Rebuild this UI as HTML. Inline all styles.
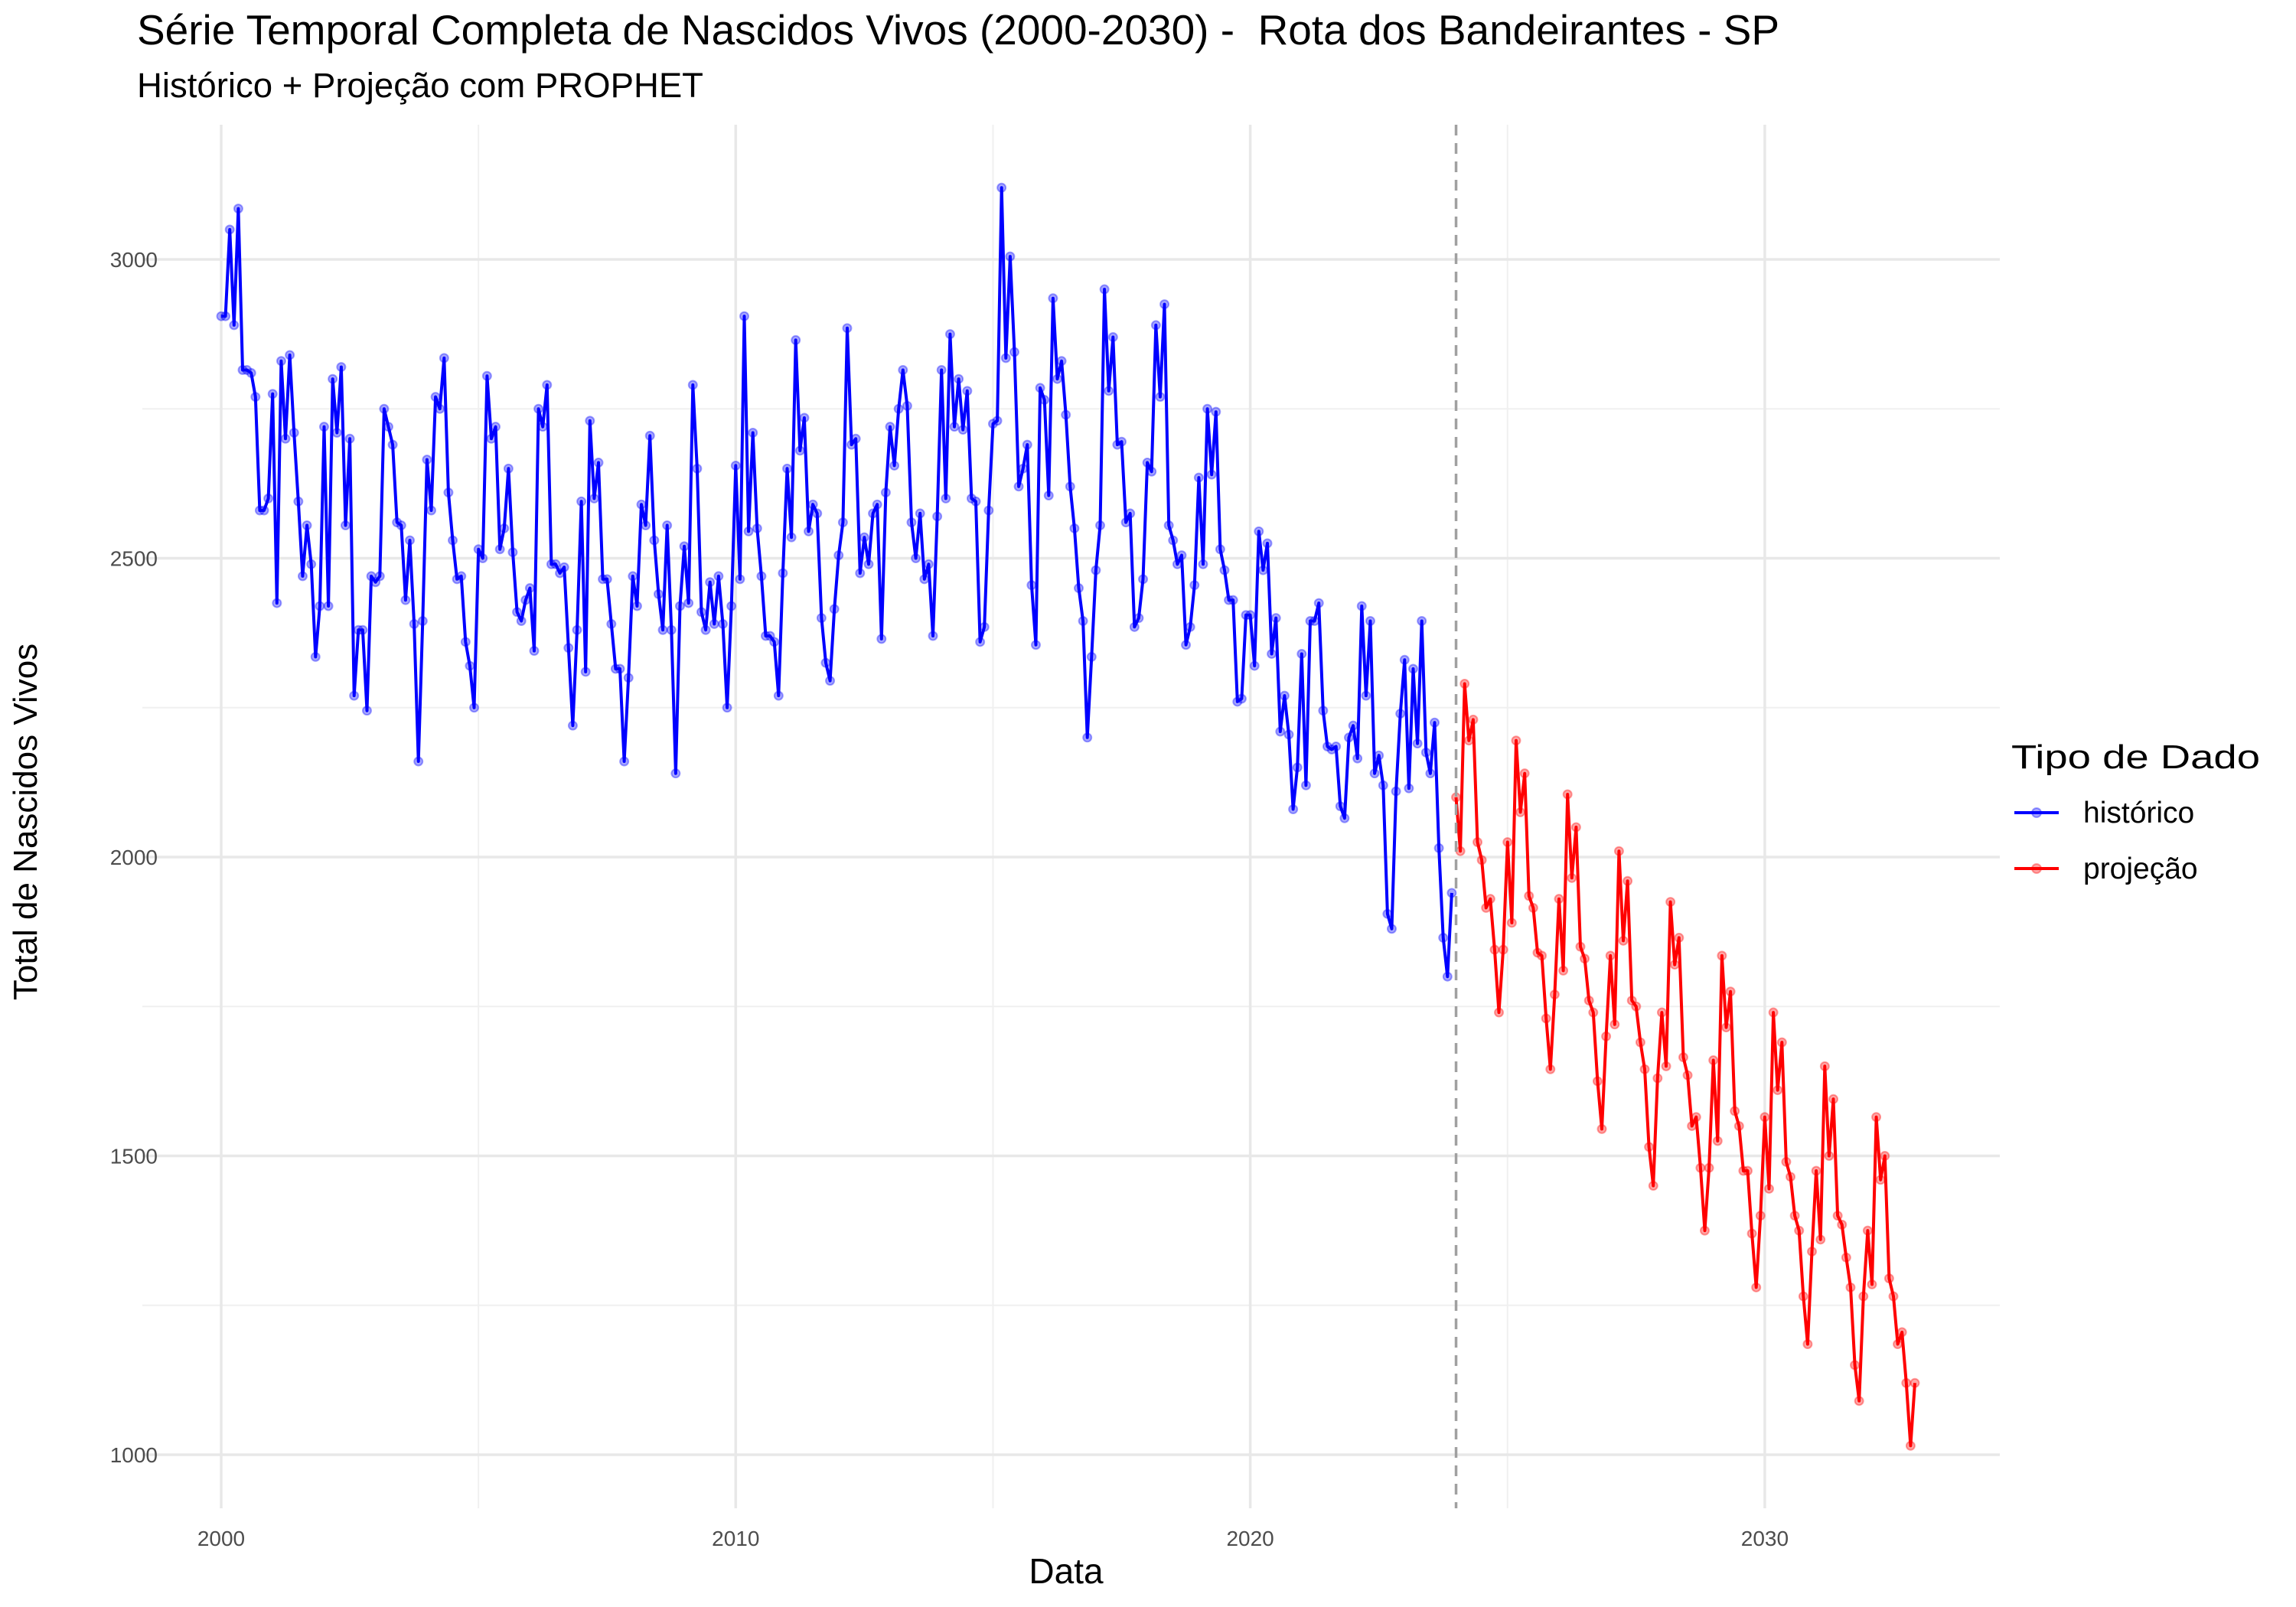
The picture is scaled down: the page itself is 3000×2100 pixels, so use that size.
<!DOCTYPE html>
<html><head><meta charset="utf-8">
<style>
html,body{margin:0;padding:0;background:#fff;}
svg{display:block;font-family:"Liberation Sans",Arial,sans-serif;}
</style></head>
<body>
<svg id="chart" width="3000" height="2100" viewBox="0 0 3000 2100" xmlns="http://www.w3.org/2000/svg">
  <rect width="3000" height="2100" fill="#fff"/>
  <g id="grid"></g>
  <g id="marks"></g>
  <g id="axes"></g>
  <text x="179" y="58" font-size="55" fill="#000" textLength="2146" lengthAdjust="spacingAndGlyphs" style="white-space:pre" xml:space="preserve">Série Temporal Completa de Nascidos Vivos (2000-2030) -  Rota dos Bandeirantes - SP</text>
  <text x="179" y="127" font-size="45" fill="#000" textLength="740" lengthAdjust="spacingAndGlyphs">Histórico + Projeção com PROPHET</text>
  <text x="1393" y="2069" font-size="46" text-anchor="middle" fill="#000">Data</text>
  <text x="48" y="1074" font-size="44" text-anchor="middle" fill="#000" transform="rotate(-90 48 1074)">Total de Nascidos Vivos</text>
  <g>
    <text x="2628" y="1004" font-size="44" fill="#000" textLength="325" lengthAdjust="spacingAndGlyphs">Tipo de Dado</text>
    <g>
      <line x1="2632" y1="1062" x2="2690" y2="1062" stroke="#0000ff" stroke-width="4"/>
      <circle cx="2661" cy="1062" r="6" fill="#0000ff" fill-opacity="0.35" stroke="#0000ff" stroke-opacity="0.35" stroke-width="2"/>
      <text x="2722" y="1075" font-size="39" fill="#000">histórico</text>
    </g>
    <g>
      <line x1="2632" y1="1135" x2="2690" y2="1135" stroke="#ff0000" stroke-width="4"/>
      <circle cx="2661" cy="1135" r="6" fill="#ff0000" fill-opacity="0.35" stroke="#ff0000" stroke-opacity="0.35" stroke-width="2"/>
      <text x="2722" y="1148" font-size="39" fill="#000">projeção</text>
    </g>
  </g>
</svg>
<script>
const historico = [
2905,2905,3050,2890,3085,2815,2815,2810,2770,2580,2580,2600,
2775,2425,2830,2700,2840,2710,2595,2470,2555,2490,2335,2420,
2720,2420,2800,2710,2820,2555,2700,2270,2380,2380,2245,2470,
2460,2470,2750,2720,2690,2560,2555,2430,2530,2390,2160,2395,
2665,2580,2770,2750,2835,2610,2530,2465,2470,2360,2320,2250,
2515,2500,2805,2700,2720,2515,2550,2650,2510,2410,2395,2430,
2450,2345,2750,2720,2790,2490,2490,2475,2485,2350,2220,2380,
2595,2310,2730,2600,2660,2465,2465,2390,2315,2315,2160,2300,
2470,2420,2590,2555,2705,2530,2440,2380,2555,2380,2140,2420,
2520,2425,2790,2650,2410,2380,2460,2390,2470,2390,2250,2420,
2655,2465,2905,2545,2710,2550,2470,2370,2370,2360,2270,2475,
2650,2535,2865,2680,2735,2545,2590,2575,2400,2325,2295,2415,
2505,2560,2885,2690,2700,2475,2535,2490,2575,2590,2365,2610,
2720,2655,2750,2815,2755,2560,2500,2575,2465,2490,2370,2570,
2815,2600,2875,2720,2800,2715,2780,2600,2595,2360,2385,2580,
2725,2730,3120,2835,3005,2845,2620,2650,2690,2455,2355,2785,
2765,2605,2935,2800,2830,2740,2620,2550,2450,2395,2200,2335,
2480,2555,2950,2780,2870,2690,2695,2560,2575,2385,2400,2465,
2660,2645,2890,2770,2925,2555,2530,2490,2505,2355,2385,2455,
2635,2490,2750,2640,2745,2515,2480,2430,2430,2260,2265,2405,
2405,2320,2545,2480,2525,2340,2400,2210,2270,2205,2080,2150,
2340,2120,2395,2395,2425,2245,2185,2180,2185,2085,2065,2200,
2220,2165,2420,2270,2395,2140,2170,2120,1905,1880,2110,2240,
2330,2115,2315,2190,2395,2175,2140,2225,2015,1865,1800,1940];
const projecao = [
2100,2010,2290,2195,2230,2025,1995,1915,1930,1845,1740,1845,
2025,1890,2195,2075,2140,1935,1915,1840,1835,1730,1645,1770,
1930,1810,2105,1965,2050,1850,1830,1760,1740,1625,1545,1700,
1835,1720,2010,1860,1960,1760,1750,1690,1645,1515,1450,1630,
1740,1650,1925,1820,1865,1665,1635,1550,1565,1480,1375,1480,
1660,1525,1835,1715,1775,1575,1550,1475,1475,1370,1280,1400,
1565,1445,1740,1610,1690,1490,1465,1400,1375,1265,1185,1340,
1475,1360,1650,1500,1595,1400,1385,1330,1280,1150,1090,1265,
1375,1285,1565,1460,1500,1295,1265,1185,1205,1120,1015,1120];
const histStartYear = 2000;
const projStartYear = 2024;
const xTicks = [2000, 2010, 2020, 2030];
const xMinor = [2005, 2015, 2025];
const yTicks = [1000, 1500, 2000, 2500, 3000];
const yMinor = [1250, 1750, 2250, 2750];
const cutoffYear = 2024;

const NS = "http://www.w3.org/2000/svg";
const P = {left:186, right:2613, top:163, bottom:1971};
function xs(year){ return 289 + (year - 2000) * 67.23; }
function ys(v){ return 1901 - (v - 1000) * 0.781; }
function mk(tag, attrs, parent){
  const e = document.createElementNS(NS, tag);
  for (const k in attrs) e.setAttribute(k, attrs[k]);
  parent.appendChild(e);
  return e;
}
const grid = document.getElementById('grid');
const marks = document.getElementById('marks');
const axes = document.getElementById('axes');

yMinor.forEach(v => {
  const l = mk('line', {x1:P.left, x2:P.right, y1:ys(v), y2:ys(v), stroke:'#f0f0f0', 'stroke-width':2}, grid);
  
  
});
xMinor.forEach(v => {
  const l = mk('line', {x1:xs(v), x2:xs(v), y1:P.top, y2:P.bottom, stroke:'#f0f0f0', 'stroke-width':2}, grid);
  
  
});
yTicks.forEach(v => {
  const l = mk('line', {x1:P.left, x2:P.right, y1:ys(v), y2:ys(v), stroke:'#e8e8e8', 'stroke-width':3.5}, grid);
  
  
  const t = mk('text', {x:206, y:ys(v)+10, 'font-size':28, fill:'#4d4d4d', 'text-anchor':'end'}, axes);
  t.textContent = v;
  
  
});
xTicks.forEach(v => {
  const l = mk('line', {x1:xs(v), x2:xs(v), y1:P.top, y2:P.bottom, stroke:'#e8e8e8', 'stroke-width':3.5}, grid);
  
  
  const t = mk('text', {x:xs(v), y:2020, 'font-size':28, fill:'#4d4d4d', 'text-anchor':'middle'}, axes);
  t.textContent = v;
  
  
});

function drawSeries(vals, startYear, color, name){
  const pts = vals.map((v,i) => [xs(startYear + i/12), ys(v)]);
  const pl = mk('polyline', {points: pts.map(p => p[0].toFixed(1)+','+p[1].toFixed(1)).join(' '), fill:'none', stroke:color, 'stroke-width':4, 'stroke-linejoin':'round'}, marks);
  
  
  pts.forEach(p => {
    const c = mk('circle', {cx:p[0], cy:p[1], r:5.5, fill:color, 'fill-opacity':0.35, stroke:color, 'stroke-opacity':0.35, 'stroke-width':2}, marks);
    
    
  });
}
drawSeries(historico, histStartYear, '#0000ff', 'historico');
drawSeries(projecao, projStartYear, '#ff0000', 'projecao');

const cut = mk('line', {x1:xs(cutoffYear), x2:xs(cutoffYear), y1:P.top, y2:P.bottom, stroke:'#a0a0a0', 'stroke-width':3.5, 'stroke-dasharray':'14 10'}, marks);


</script>
</body></html>
